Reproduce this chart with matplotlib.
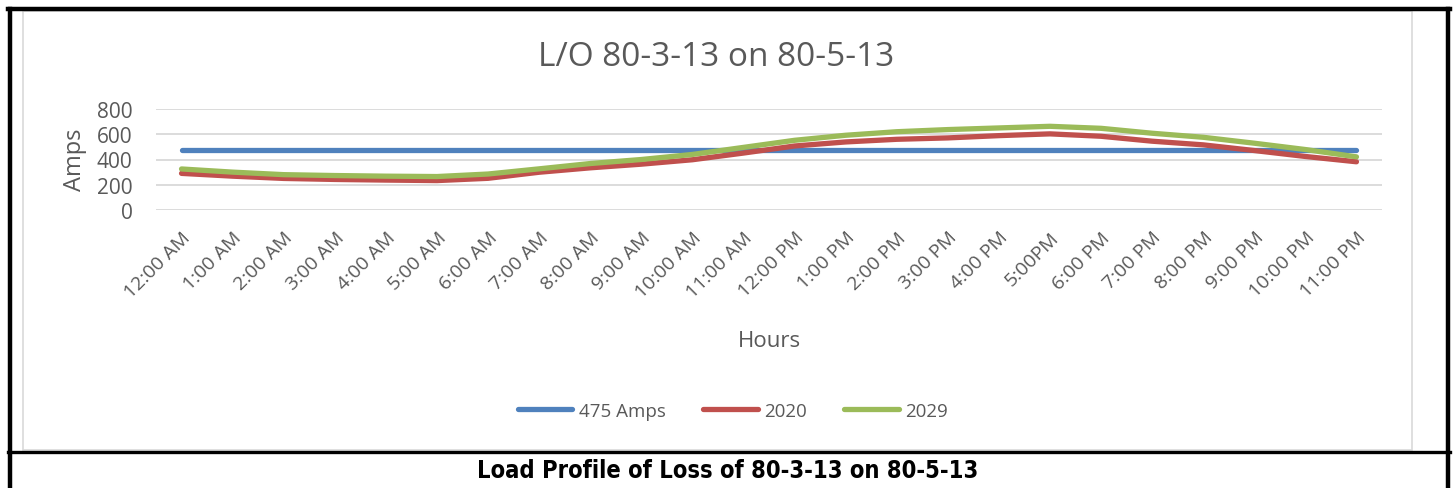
#Load profile chart: L/O 80-3-13 on 80-5-13
import numpy as np
import matplotlib.pyplot as plt
from matplotlib.lines import Line2D
from matplotlib.patches import Rectangle

#Data
hours = ["12:00 AM", "1:00 AM", "2:00 AM", "3:00 AM", "4:00 AM", "5:00 AM",
         "6:00 AM", "7:00 AM", "8:00 AM", "9:00 AM", "10:00 AM", "11:00 AM",
         "12:00 PM", "1:00 PM", "2:00 PM", "3:00 PM", "4:00 PM", "5:00PM",
         "6:00 PM", "7:00 PM", "8:00 PM", "9:00 PM", "10:00 PM", "11:00 PM"]
limit = [475] * 24
load_2020 = [290, 268, 250, 242, 237, 233, 251, 299, 334, 363, 398, 451,
             507, 539, 560, 571, 589, 603, 584, 545, 516, 471, 424, 382]
load_2029 = [325, 300, 280, 273, 268, 265, 285, 326, 368, 400, 440, 496,
             552, 592, 620, 637, 650, 663, 647, 608, 576, 529, 479, 421]

W, H = 1455, 489
txt = "#595959"
grid = "#d9d9d9"
plt.rcParams['font.family'] = ['Open Sans', 'DejaVu Sans']

fig = plt.figure(figsize=(W / 100, H / 100), dpi=100)

#plot area in pixels: x 156..1382, y 110..211
ax = fig.add_axes([156 / W, 1 - 211 / H, (1382 - 156) / W, (211 - 110) / H])
x = np.arange(len(hours))
ax.plot(x, limit, color="#4F81BD", lw=3.8, solid_capstyle="round", label="475 Amps", zorder=3)
ax.plot(x, load_2020, color="#C0504D", lw=3.8, solid_capstyle="round", solid_joinstyle="round", label="2020", zorder=4)
ax.plot(x, load_2029, color="#9BBB59", lw=3.8, solid_capstyle="round", solid_joinstyle="round", label="2029", zorder=5)

ax.set_xlim(-0.5, len(hours) - 0.5)
ax.set_ylim(0, 800)
ax.set_yticks([0, 200, 400, 600, 800])
ax.yaxis.grid(True, color=grid, lw=1.3)
ax.set_axisbelow(True)
for s in ax.spines.values():
    s.set_visible(False)
ax.tick_params(axis="both", length=0, colors=txt)
ax.tick_params(axis="y", labelsize=15, pad=17)
ax.set_xticks(x)
ax.set_xticklabels(hours, rotation=45, ha="right", va="top", rotation_mode="anchor", fontsize=14)
ax.tick_params(axis="x", pad=13)

fig.text(75 / W, 1 - 160 / H, "Amps", rotation=90, ha="center", va="center", fontsize=17, color=txt)
fig.text(769 / W, 1 - 342 / H, "Hours", ha="center", va="center", fontsize=16, color=txt)
fig.text(716 / W, 1 - 57 / H, "L/O 80-3-13 on 80-5-13", ha="center", va="center", fontsize=24, color=txt)

leg = fig.legend(loc="center", bbox_to_anchor=(733 / W, 1 - 412 / H), ncol=3, frameon=False,
                 fontsize=13.5, handlelength=2.9, handletextpad=0.35, columnspacing=2.0)
for t in leg.get_texts():
    t.set_color(txt)

fig.text(728 / W, 1 - 471 / H, "Load Profile of Loss of 80-3-13 on 80-5-13", ha="center", va="center",
         fontsize=17, fontweight="bold", fontstretch="condensed", color="black", family="DejaVu Sans")

#frames
fig.add_artist(Rectangle((23 / W, 1 - 451 / H), (1412 - 23) / W, (451 - 12) / H,
                         transform=fig.transFigure, fill=False, ec=grid, lw=1.2))
k = "black"
fig.add_artist(Line2D([9.5 / W, 9.5 / W], [0, 1 - 10 / H], color=k, lw=3.2, transform=fig.transFigure))
fig.add_artist(Line2D([1448 / W, 1448 / W], [0, 1 - 10 / H], color=k, lw=3.2, transform=fig.transFigure))
fig.add_artist(Line2D([8 / W, 1450 / W], [1 - 10 / H, 1 - 10 / H], color=k, lw=3.2, transform=fig.transFigure))
fig.add_artist(Line2D([8 / W, 1450 / W], [1 - 453 / H, 1 - 453 / H], color=k, lw=2.4, transform=fig.transFigure))

fig.savefig("out.png", dpi=100)
